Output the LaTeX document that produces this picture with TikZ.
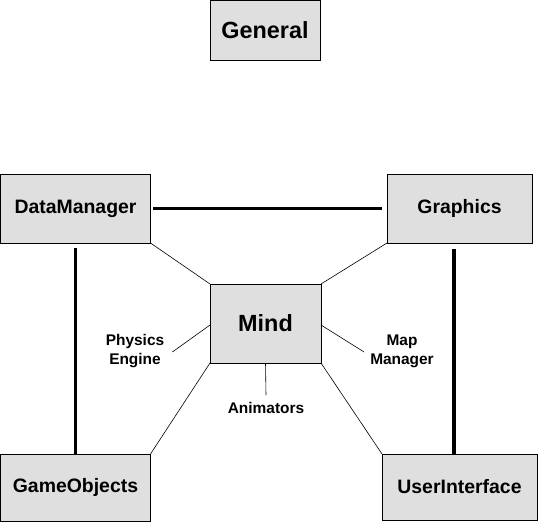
\documentclass[tikz,border=0pt]{standalone}
\usepackage{fontspec}
\setmainfont{Liberation Sans}
\usepackage{tikz}

\begin{document}
\begin{tikzpicture}[
			x=1bp,
			y=-1bp,
			font=\bfseries,
			module/.style={draw, fill=gray!25, line width=0.9bp, align=center, inner sep=0pt, outer sep=0pt, font=\fontsize{19.5}{22}\selectfont\bfseries},
			bigmodule/.style={module, font=\fontsize{23.5}{26}\selectfont\bfseries},
			sublabel/.style={align=center, inner sep=0pt, font=\fontsize{15.5}{19}\selectfont\bfseries},
			strong/.style={line width=3.6bp},
			weak/.style={line width=0.6bp}
		]
			\useasboundingbox (0,0) rectangle (538,525);

			\node[bigmodule, minimum width=110bp, minimum height=60bp] (general) at (265,30.5) {General};

			\node[module, minimum width=150bp, minimum height=69bp] (datamgr)  at (75.5,208.5) {DataManager};
			\node[module, minimum width=145bp, minimum height=69bp] (graphics) at (459.5,208.5) {Graphics};

			\node[bigmodule, minimum width=111bp, minimum height=79bp] (mind) at (265.5,323.5) {Mind};

			\node[module, minimum width=150bp, minimum height=67bp] (gameobj) at (75.5,487.5) {GameObjects};
			\node[module, minimum width=155bp, minimum height=66bp] (userif)  at (459.5,487) {UserInterface};

			\node[sublabel] (physics)   at (135,351) {Physics\\Engine};
			\node[sublabel] (mapmgr)    at (402,351) {Map\\Manager};
			\node[sublabel] (animators) at (266,408) {Animators};

			\draw[strong] ([xshift=2.5bp]datamgr.east) -- ([xshift=-5bp]graphics.west);
			\draw[strong] ([yshift=-5bp]datamgr.south) -- (gameobj.north);
			\draw[strong] ([xshift=-5.5bp, yshift=-6bp]graphics.south) -- ([xshift=-5.5bp]userif.north);

			\draw[weak] (datamgr.south east) -- (mind.north west);
			\draw[weak] (graphics.south west) -- (mind.north east);
			\draw[weak] (mind.south west) -- (gameobj.north east);
			\draw[weak] (mind.south east) -- (userif.north west);

			\draw[weak] ([yshift=-1.5bp]mind.west) -- ([xshift=8bp, yshift=-1bp]physics.east);
			\draw[weak] ([yshift=-1.5bp]mind.east) -- ([xshift=-6bp, yshift=-1bp]mapmgr.west);
			\draw[weak] (mind.south) -- ([yshift=7bp]animators.north);
		\end{tikzpicture}
\end{document}
